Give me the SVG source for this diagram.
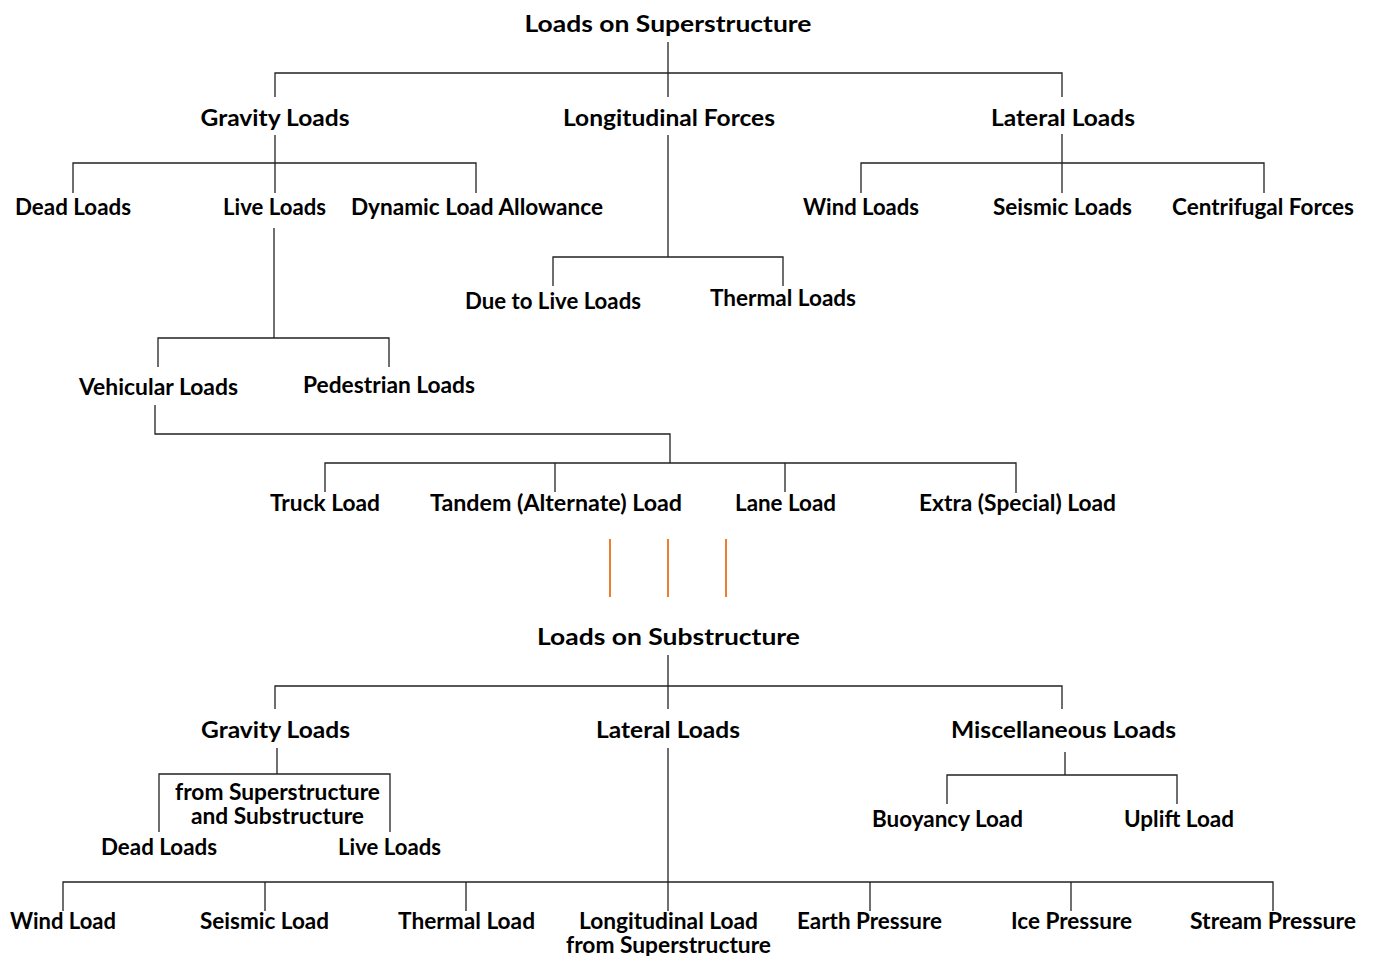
<svg xmlns="http://www.w3.org/2000/svg" width="1373" height="956" viewBox="0 0 1373 956">
<style>
text{font-family:Lato,"Liberation Sans",sans-serif;font-weight:bold;font-size:23px;fill:#000;text-anchor:middle}
.c line,.c polyline{stroke:#222;stroke-width:1.3;fill:none}
.o line{stroke:#ED7D31;stroke-width:2}
</style>
<rect width="1373" height="956" fill="#fff"/>
<g class="c" id="connectors">
<line x1="668" y1="42" x2="668" y2="97"/>
<polyline points="275,97 275,73 1062,73 1062,97"/>
<line x1="275" y1="135" x2="275" y2="193"/>
<polyline points="73,193 73,163 476,163 476,193"/>
<line x1="274" y1="228" x2="274" y2="338"/>
<polyline points="158,367 158,338 389,338 389,367"/>
<polyline points="155,405 155,434 670,434 670,463"/>
<polyline points="325,492 325,463 1016,463 1016,493"/>
<line x1="555" y1="463" x2="555" y2="492"/>
<line x1="785" y1="463" x2="785" y2="492"/>
<line x1="668" y1="135" x2="668" y2="257"/>
<polyline points="553,286 553,257 783,257 783,286"/>
<line x1="1062" y1="134" x2="1062" y2="193"/>
<polyline points="861,193 861,163 1264,163 1264,193"/>
<line x1="668" y1="655" x2="668" y2="709"/>
<polyline points="275,709 275,686 1062,686 1062,709"/>
<line x1="277" y1="748" x2="277" y2="774"/>
<polyline points="159,832 159,774 390,774 390,832"/>
<line x1="668" y1="748" x2="668" y2="911"/>
<polyline points="63,911 63,882 1273,882 1273,911"/>
<line x1="265" y1="882" x2="265" y2="911"/>
<line x1="466" y1="882" x2="466" y2="911"/>
<line x1="870" y1="882" x2="870" y2="911"/>
<line x1="1071" y1="882" x2="1071" y2="911"/>
<line x1="1065" y1="752" x2="1065" y2="775"/>
<polyline points="947,804 947,775 1177,775 1177,804"/>
</g>
<g class="o" id="separator">
<line x1="610" y1="539" x2="610" y2="597"/>
<line x1="668" y1="539" x2="668" y2="597"/>
<line x1="726" y1="539" x2="726" y2="597"/>
</g>
<g id="sup-root"><text x="668" y="32" textLength="287" lengthAdjust="spacingAndGlyphs">Loads on Superstructure</text></g>
<g id="sup-gravity"><text x="275" y="126" textLength="149" lengthAdjust="spacingAndGlyphs">Gravity Loads</text></g>
<g id="sup-longitudinal"><text x="669" y="126" textLength="212" lengthAdjust="spacingAndGlyphs">Longitudinal Forces</text></g>
<g id="sup-lateral"><text x="1063" y="126" textLength="144" lengthAdjust="spacingAndGlyphs">Lateral Loads</text></g>
<g id="sup-dead"><text x="73" y="215" textLength="116" lengthAdjust="spacingAndGlyphs">Dead Loads</text></g>
<g id="sup-live"><text x="274.5" y="215" textLength="103" lengthAdjust="spacingAndGlyphs">Live Loads</text></g>
<g id="sup-dynamic"><text x="477" y="215" textLength="252" lengthAdjust="spacingAndGlyphs">Dynamic Load Allowance</text></g>
<g id="sup-wind"><text x="861" y="215" textLength="116" lengthAdjust="spacingAndGlyphs">Wind Loads</text></g>
<g id="sup-seismic"><text x="1062.5" y="215" textLength="139" lengthAdjust="spacingAndGlyphs">Seismic Loads</text></g>
<g id="sup-centrifugal"><text x="1263" y="215" textLength="182" lengthAdjust="spacingAndGlyphs">Centrifugal Forces</text></g>
<g id="sup-due-live"><text x="553" y="309" textLength="176" lengthAdjust="spacingAndGlyphs">Due to Live Loads</text></g>
<g id="sup-thermal"><text x="783" y="306" textLength="146" lengthAdjust="spacingAndGlyphs">Thermal Loads</text></g>
<g id="sup-vehicular"><text x="158.5" y="395" textLength="159" lengthAdjust="spacingAndGlyphs">Vehicular Loads</text></g>
<g id="sup-pedestrian"><text x="389" y="393" textLength="172" lengthAdjust="spacingAndGlyphs">Pedestrian Loads</text></g>
<g id="sup-truck"><text x="325" y="511" textLength="110" lengthAdjust="spacingAndGlyphs">Truck Load</text></g>
<g id="sup-tandem"><text x="556" y="511" textLength="252" lengthAdjust="spacingAndGlyphs">Tandem (Alternate) Load</text></g>
<g id="sup-lane"><text x="785.5" y="511" textLength="101" lengthAdjust="spacingAndGlyphs">Lane Load</text></g>
<g id="sup-extra"><text x="1017.5" y="511" textLength="197" lengthAdjust="spacingAndGlyphs">Extra (Special) Load</text></g>
<g id="sub-root"><text x="668.5" y="645" textLength="263" lengthAdjust="spacingAndGlyphs">Loads on Substructure</text></g>
<g id="sub-gravity"><text x="275.5" y="738" textLength="149" lengthAdjust="spacingAndGlyphs">Gravity Loads</text></g>
<g id="sub-lateral"><text x="668" y="738" textLength="144" lengthAdjust="spacingAndGlyphs">Lateral Loads</text></g>
<g id="sub-misc"><text x="1063.5" y="738" textLength="225" lengthAdjust="spacingAndGlyphs">Miscellaneous Loads</text></g>
<g id="sub-gravity-note"><text x="277.5" y="800" textLength="205" lengthAdjust="spacingAndGlyphs">from Superstructure</text><text x="277.5" y="824" textLength="173" lengthAdjust="spacingAndGlyphs">and Substructure</text></g>
<g id="sub-dead"><text x="159" y="855" textLength="116" lengthAdjust="spacingAndGlyphs">Dead Loads</text></g>
<g id="sub-live"><text x="389.5" y="855" textLength="103" lengthAdjust="spacingAndGlyphs">Live Loads</text></g>
<g id="sub-buoyancy"><text x="947.5" y="827" textLength="151" lengthAdjust="spacingAndGlyphs">Buoyancy Load</text></g>
<g id="sub-uplift"><text x="1179" y="827" textLength="110" lengthAdjust="spacingAndGlyphs">Uplift Load</text></g>
<g id="sub-wind"><text x="63" y="929" textLength="106" lengthAdjust="spacingAndGlyphs">Wind Load</text></g>
<g id="sub-seismic"><text x="264.5" y="929" textLength="129" lengthAdjust="spacingAndGlyphs">Seismic Load</text></g>
<g id="sub-thermal"><text x="466.5" y="929" textLength="137" lengthAdjust="spacingAndGlyphs">Thermal Load</text></g>
<g id="sub-longitudinal"><text x="668.5" y="929" textLength="179" lengthAdjust="spacingAndGlyphs">Longitudinal Load</text><text x="668.5" y="953" textLength="205" lengthAdjust="spacingAndGlyphs">from Superstructure</text></g>
<g id="sub-earth"><text x="869.5" y="929" textLength="145" lengthAdjust="spacingAndGlyphs">Earth Pressure</text></g>
<g id="sub-ice"><text x="1071.5" y="929" textLength="121" lengthAdjust="spacingAndGlyphs">Ice Pressure</text></g>
<g id="sub-stream"><text x="1273" y="929" textLength="166" lengthAdjust="spacingAndGlyphs">Stream Pressure</text></g>
</svg>
